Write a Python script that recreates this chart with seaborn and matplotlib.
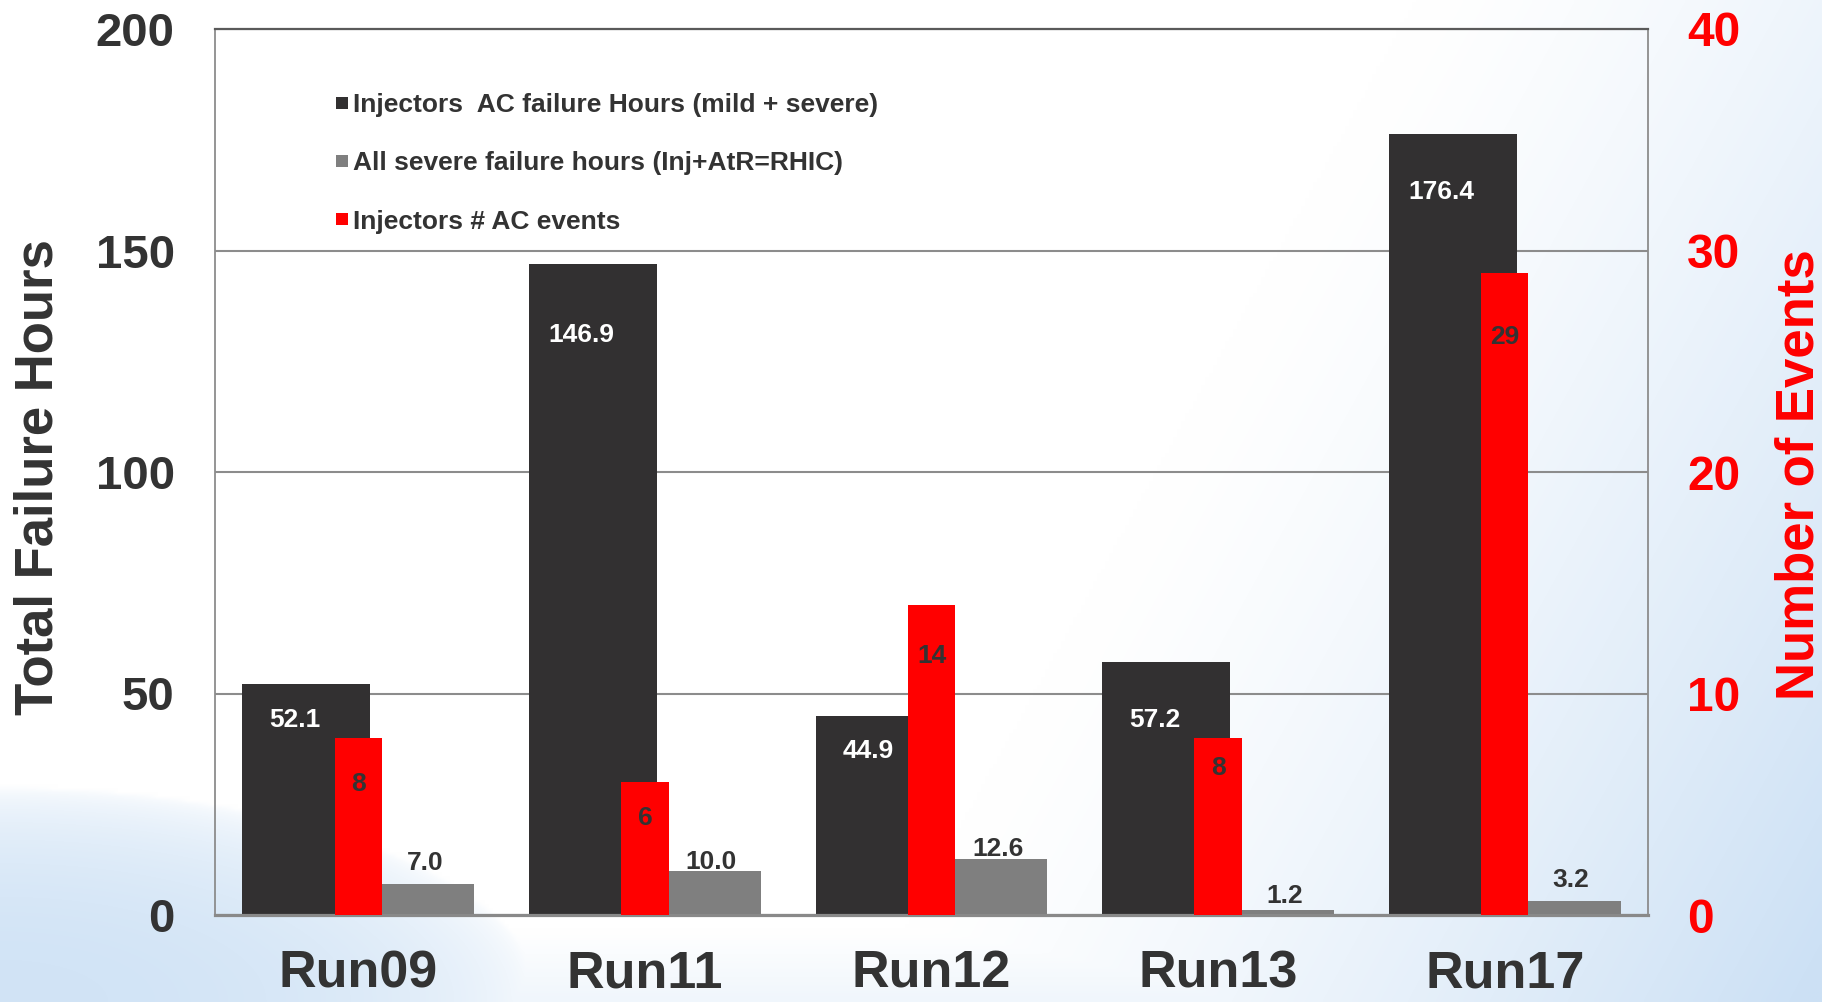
import numpy as np
import pandas as pd
import matplotlib
matplotlib.use("Agg")
import matplotlib.pyplot as plt
from matplotlib.lines import Line2D
import seaborn as sns

# ---- data -------------------------------------------------------------
runs = ["Run09", "Run11", "Run12", "Run13", "Run17"]
inj_ac_hours = [52.1, 146.9, 44.9, 57.2, 176.4]      # Injectors AC failure hours (mild + severe)
severe_hours = [7.0, 10.0, 12.6, 1.2, 3.2]           # All severe failure hours (Inj+AtR=RHIC)
inj_ac_events = [8, 6, 14, 8, 29]                    # Injectors # AC events

legend_labels = [
    "Injectors  AC failure Hours (mild + severe)",
    "All severe failure hours (Inj+AtR=RHIC)",
    "Injectors # AC events",
]

# ---- style ------------------------------------------------------------
DARK = "#323031"
GREY = "#7f7f7f"
RED = "#ff0000"
TXT = "#333333"

plt.rcParams["font.family"] = ["Liberation Sans", "DejaVu Sans"]
plt.rcParams["font.weight"] = "bold"

W, H = 1822, 1002
fig = plt.figure(figsize=(W / 100, H / 100), dpi=100)

# soft blue backdrop, strongest toward the lower corners
bg = fig.add_axes([0, 0, 1, 1], zorder=-10)
ys, xs = np.mgrid[0:H:4, 0:W:4].astype(float)
p = 0.875 * xs + 0.482 * ys
t_right = np.clip((p - 1240) / 820, 0, 1) ** 1.3
d = (xs / 540) ** 2 + ((H - ys) / 215) ** 2
t_left = np.clip(1 - d, 0, 1) ** 0.5 * 0.9
t_bottom = np.clip((ys - 930) / 72, 0, 1) * 0.3
t = np.clip(np.maximum.reduce([t_right, t_left, t_bottom]), 0, 1)
blue = np.array([0.80, 0.88, 0.96])
img = (1 - t[..., None]) * 1.0 + t[..., None] * blue
bg.imshow(img, aspect="auto", interpolation="bilinear", extent=[0, 1, 0, 1])
bg.set_axis_off()

ax = fig.add_axes([215 / W, 1 - 915 / H, 1433 / W, 886 / H])
ax.set_facecolor("none")

idx = np.arange(len(runs))
bar_w = 0.447
side = 0.181

df = pd.DataFrame({
    "run": runs,
    "pos": idx,
    "hours": inj_ac_hours,
    "severe": severe_hours,
    "events": inj_ac_events,
})

sns.barplot(x=df["pos"] - side, y=df["hours"], native_scale=True, width=bar_w,
            color=DARK, saturation=1, linewidth=0, errorbar=None, ax=ax, zorder=2)
sns.barplot(x=df["pos"] + side, y=df["severe"], native_scale=True, width=bar_w,
            color=GREY, saturation=1, linewidth=0, errorbar=None, ax=ax, zorder=2)

ax2 = ax.twinx()
sns.barplot(x=df["pos"], y=df["events"], native_scale=True, width=0.165,
            color=RED, saturation=1, linewidth=0, errorbar=None, ax=ax2, zorder=3)

ax.set_xlim(-0.5, len(runs) - 0.5)
ax.set_ylim(0, 200)
ax2.set_ylim(0, 40)
ax.set_yticks([0, 50, 100, 150, 200])
ax2.set_yticks([0, 10, 20, 30, 40])
ax.set_xticks(idx)
ax.set_xticklabels(runs)
ax.set_xlabel("")
ax.set_ylabel("")
ax2.set_ylabel("")

ax.set_axisbelow(True)
ax.yaxis.grid(True, color="#8c8c8c", linewidth=1.5)
ax.xaxis.grid(False)

ax.tick_params(axis="y", length=0, pad=29, labelsize=34, labelcolor=TXT)
ax.tick_params(axis="x", length=0, pad=25, labelsize=37.5, labelcolor=TXT)
ax2.tick_params(axis="y", length=0, pad=28, labelsize=34.5, labelcolor=RED)

for s in ("left", "right"):
    ax.spines[s].set_color("#8c8c8c")
    ax.spines[s].set_linewidth(1.3)
ax.spines["bottom"].set_color("#898989")
ax.spines["bottom"].set_linewidth(2.3)
ax.spines["top"].set_color("#5a5a5a")
ax.spines["top"].set_linewidth(1.6)
for s in ax2.spines.values():
    s.set_visible(False)

# value labels
dark_drop = [26, 51, 25, 42, 42]
red_drop = [33, 26, 37, 22, 46]
grey_rise = [15, 6, 7, 10, 15]

for i, v in enumerate(inj_ac_hours):
    ax.annotate(f"{v:.1f}", (i - 0.22, v), xytext=(0, -dark_drop[i]),
                textcoords="offset points", ha="center", va="center",
                color="white", fontsize=19, fontweight="bold", zorder=5)
for i, v in enumerate(severe_hours):
    ax.annotate(f"{v:.1f}", (i + 0.232, v), xytext=(0, grey_rise[i]),
                textcoords="offset points", ha="center", va="center",
                color=TXT, fontsize=19, fontweight="bold", zorder=5)
for i, v in enumerate(inj_ac_events):
    ax2.annotate(f"{v}", (i, v), xytext=(0, -red_drop[i]),
                 textcoords="offset points", ha="center", va="center",
                 color=TXT, fontsize=19, fontweight="bold", zorder=5)

# axis titles
fig.text(39 / W, 1 - 477 / H, "Total Failure Hours", rotation=90, ha="center",
         va="center", fontsize=38, fontweight="bold", color=TXT)
fig.text(1800 / W, 1 - 475 / H, "Number of Events", rotation=90, ha="center",
         va="center", fontsize=38, fontweight="bold", color=RED)

# legend
handles = [Line2D([], [], marker="s", linestyle="none", markersize=8.6,
                  markerfacecolor=c, markeredgewidth=0)
           for c in (DARK, GREY, RED)]
leg = ax2.legend(handles, legend_labels, loc="upper left",
                 bbox_to_anchor=((335 - 215) / 1433, 1 - (93 - 29) / 886),
                 frameon=False, fontsize=19, handlelength=0.5, handletextpad=0.2,
                 borderpad=0, borderaxespad=0, labelspacing=1.3)
for txt in leg.get_texts():
    txt.set_color(TXT)
    txt.set_fontweight("bold")

fig.savefig("out.png", dpi=100)
